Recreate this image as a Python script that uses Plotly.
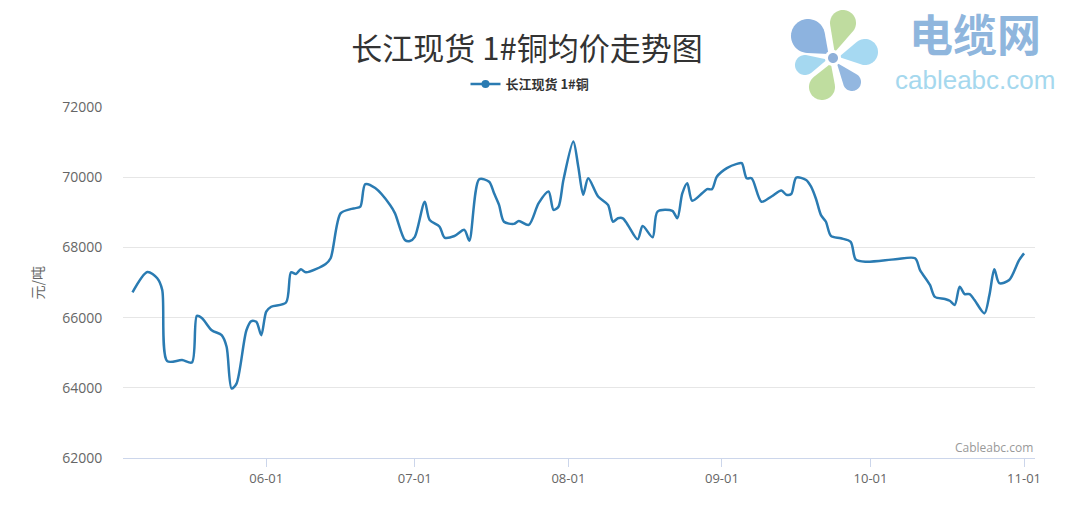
import math
import plotly.graph_objects as go

# ---------------- data ----------------
dates = [
    "2023-05-05", "2023-05-08", "2023-05-10", "2023-05-11", "2023-05-12", "2023-05-15",
    "2023-05-17", "2023-05-18", "2023-05-19", "2023-05-21", "2023-05-23", "2023-05-24",
    "2023-05-25", "2023-05-26", "2023-05-28", "2023-05-29", "2023-05-30", "2023-05-31",
    "2023-06-01", "2023-06-02", "2023-06-05", "2023-06-06", "2023-06-07", "2023-06-08",
    "2023-06-09", "2023-06-13", "2023-06-14", "2023-06-16", "2023-06-18", "2023-06-19",
    "2023-06-20", "2023-06-21", "2023-06-23", "2023-06-26", "2023-06-27", "2023-06-29",
    "2023-06-30",
    "2023-07-01", "2023-07-03", "2023-07-04", "2023-07-06", "2023-07-07", "2023-07-09",
    "2023-07-11", "2023-07-12", "2023-07-14", "2023-07-16", "2023-07-17", "2023-07-18",
    "2023-07-19", "2023-07-21", "2023-07-22", "2023-07-24", "2023-07-26", "2023-07-28",
    "2023-07-29", "2023-07-30", "2023-07-31",
    "2023-08-02", "2023-08-03", "2023-08-04", "2023-08-05", "2023-08-07", "2023-08-09",
    "2023-08-10", "2023-08-11", "2023-08-12", "2023-08-13", "2023-08-15", "2023-08-16",
    "2023-08-18", "2023-08-19", "2023-08-22", "2023-08-23", "2023-08-24", "2023-08-25",
    "2023-08-26", "2023-08-28", "2023-08-29", "2023-08-30", "2023-08-31",
    "2023-09-02", "2023-09-04", "2023-09-05", "2023-09-06", "2023-09-07", "2023-09-09",
    "2023-09-11", "2023-09-13", "2023-09-14", "2023-09-15", "2023-09-16", "2023-09-18",
    "2023-09-19", "2023-09-20", "2023-09-21", "2023-09-22", "2023-09-23", "2023-09-25",
    "2023-09-27", "2023-09-28", "2023-09-30",
    "2023-10-06", "2023-10-10", "2023-10-11", "2023-10-13", "2023-10-14", "2023-10-16",
    "2023-10-17", "2023-10-18", "2023-10-19", "2023-10-20", "2023-10-21", "2023-10-22",
    "2023-10-24", "2023-10-25", "2023-10-26", "2023-10-27", "2023-10-29", "2023-10-31",
    "2023-11-01",
]

prices = [
    66720, 67300, 67120, 66790, 64760, 64790, 64720, 66050, 65990, 65640, 65500, 65170,
    63980, 64120, 65640, 65900, 65880, 65500,
    66170, 66310, 66430, 67290, 67240, 67380, 67290, 67530, 67690, 68970, 69090, 69120,
    69160, 69800, 69690, 69210, 68970, 68210, 68180,
    68300, 69300, 68780, 68590, 68280, 68325, 68500, 68190, 69940, 69870, 69540, 69210,
    68730, 68670, 68750, 68640, 69260, 69590, 69070, 69160, 69920,
    71020, 70300, 69500, 69970, 69450, 69210, 68730, 68830, 68830, 68640, 68230, 68610,
    68290, 69020, 69040, 68830, 69540, 69830, 69330, 69540, 69660, 69660, 70020,
    70260, 70380, 70400, 69970, 69970, 69300, 69450, 69620, 69500, 69520, 69990, 69920,
    69730, 69380, 68920, 68730, 68330, 68260, 68160, 67660, 67590,
    67660, 67690, 67355, 66930, 66590, 66530, 66480, 66360, 66880, 66670, 66670, 66500,
    66120, 66640, 67375, 66980, 67070, 67640, 67830,
]

series_name = "长江现货 1#铜"
title_text = "长江现货 1#铜均价走势图"
y_unit = "元/吨"
tick_dates = ["2023-06-01", "2023-07-01", "2023-08-01", "2023-09-01", "2023-10-01", "2023-11-01"]
tick_labels = ["06-01", "07-01", "08-01", "09-01", "10-01", "11-01"]
y_ticks = [62000, 64000, 66000, 68000, 70000, 72000]

# ---------------- layout geometry (pixels) ----------------
W, H = 1080, 509
L, R, T, B = 123, 1035, 107, 458
PW, PH = R - L, B - T

LINE_COLOR = "#2a7bb2"
CJK = "Noto Sans CJK SC, Microsoft YaHei, sans-serif"


def to_paper(x, y):
    return (x - L) / PW, (B - y) / PH


def path_from_pixels(pts):
    out = []
    for x, y in pts:
        px, py = to_paper(x, y)
        out.append(f"{px:.5f},{py:.5f}")
    return "M " + " L ".join(out) + " Z"


def circle_path(cx, cy, r, n=40):
    return path_from_pixels([(cx + r * math.cos(2 * math.pi * i / n),
                              cy + r * math.sin(2 * math.pi * i / n)) for i in range(n)])


def teardrop_path(tx, ty, cx, cy, r, n=40):
    # tip at (tx, ty), round end: circle centre (cx, cy) radius r
    D = math.hypot(tx - cx, ty - cy)
    phi = math.atan2(ty - cy, tx - cx)
    beta = math.acos(min(1.0, r / D))
    pts = [(tx, ty)]
    a0, a1 = phi + beta, phi + 2 * math.pi - beta
    for i in range(n + 1):
        a = a0 + (a1 - a0) * i / n
        pts.append((cx + r * math.cos(a), cy + r * math.sin(a)))
    return path_from_pixels(pts)


fig = go.Figure()

fig.add_trace(go.Scatter(
    x=dates, y=prices, mode="lines", name=series_name,
    line=dict(color=LINE_COLOR, width=2.5, shape="spline", smoothing=0.8),
    showlegend=False,
))
# legend entry (line + circle marker symbol)
fig.add_trace(go.Scatter(
    x=[None], y=[None], mode="lines+markers", name=series_name,
    line=dict(color=LINE_COLOR, width=2.5),
    marker=dict(color=LINE_COLOR, size=8, symbol="circle"),
    showlegend=True,
))

shapes = []
# logo (watermark): six teardrop petals around a ring
LC = (833, 58)
petals = [
    (808, 36, 17, "#8db3df"),
    (843, 23, 13, "#bfdc9f"),
    (865, 52, 13, "#a6d9f2"),
    (805, 65, 10, "#a5d8f0"),
    (822, 87, 13, "#bfdd9f"),
    (852, 82, 9, "#93b7e0"),
]
for cx, cy, r, col in petals:
    d = math.hypot(cx - LC[0], cy - LC[1])
    tx = LC[0] + (cx - LC[0]) * 6 / d
    ty = LC[1] + (cy - LC[1]) * 6 / d
    shapes.append(dict(type="path", xref="paper", yref="paper",
                       path=teardrop_path(tx, ty, cx, cy, r),
                       fillcolor=col, line=dict(width=0), layer="above"))
shapes.append(dict(type="path", xref="paper", yref="paper",
                   path=circle_path(LC[0], LC[1], 8),
                   fillcolor="#ffffff", line=dict(width=0), layer="above"))
shapes.append(dict(type="path", xref="paper", yref="paper",
                   path=circle_path(LC[0], LC[1], 5),
                   fillcolor="#8fb0d9", line=dict(width=0), layer="above"))

annotations = []
# y-axis unit
ax, ay = to_paper(36, (T + B) / 2)
annotations.append(dict(text=y_unit, x=ax, y=ay, xref="paper", yref="paper",
                        textangle=-90, showarrow=False, xanchor="center", yanchor="middle",
                        font=dict(family=CJK, size=14, color="#666666")))
# watermark text
wx, wy = to_paper(975, 33)
annotations.append(dict(text="<b>电缆网</b>", x=wx, y=wy, xref="paper", yref="paper",
                        showarrow=False, xanchor="center", yanchor="middle",
                        font=dict(family=CJK, size=44, color="#8fb6dd")))
wx, wy = to_paper(975, 80)
annotations.append(dict(text="cableabc.com", x=wx, y=wy, xref="paper", yref="paper",
                        showarrow=False, xanchor="center", yanchor="middle",
                        font=dict(family="Arial, Liberation Sans, sans-serif", size=26, color="#a5d8ee")))
# credit
cx_, cy_ = to_paper(R, 447)
annotations.append(dict(text="Cableabc.com", x=cx_, y=cy_, xref="paper", yref="paper",
                        showarrow=False, xanchor="right", yanchor="middle",
                        font=dict(family="Open Sans, Arial, sans-serif", size=12, color="#999999")))

lx, ly = to_paper(530, 84)

fig.update_layout(
    width=W, height=H,
    margin=dict(l=L, r=W - R, t=T, b=H - B, autoexpand=False),
    paper_bgcolor="#ffffff", plot_bgcolor="#ffffff",
    title=dict(text=title_text, x=527 / W, y=1 - 49 / H, xref="container", yref="container",
               xanchor="center", yanchor="middle",
               font=dict(family=CJK, size=31, color="#333333")),
    showlegend=True,
    legend=dict(orientation="h", x=lx, y=ly, xanchor="center", yanchor="middle",
                font=dict(family=CJK, size=13, color="#333333", weight="bold"),
                bgcolor="rgba(0,0,0,0)", itemwidth=30),
    xaxis=dict(
        type="date",
        range=["2023-05-03 02:00", "2023-11-03 05:00"],
        tickvals=tick_dates, ticktext=tick_labels,
        showgrid=False, zeroline=False,
        showline=True, linecolor="#ccd6eb", linewidth=1,
        ticks="outside", ticklen=8, tickcolor="#ccd6eb", tickwidth=1,
        tickfont=dict(family="Open Sans, Arial, sans-serif", size=13, color="#666666"),
    ),
    yaxis=dict(
        range=[62000, 72000],
        tickvals=y_ticks, ticktext=[str(v) for v in y_ticks],
        showgrid=True, gridcolor="#e6e6e6", gridwidth=1,
        zeroline=False, showline=False,
        ticks="outside", ticklen=17, tickcolor="rgba(0,0,0,0)",
        tickfont=dict(family="Open Sans, Arial, sans-serif", size=14, color="#666666"),
    ),
    shapes=shapes,
    annotations=annotations,
    hovermode="x",
)

fig.write_html("out.html", config={"displayModeBar": False},
               post_script="document.body.style.margin='0';")
